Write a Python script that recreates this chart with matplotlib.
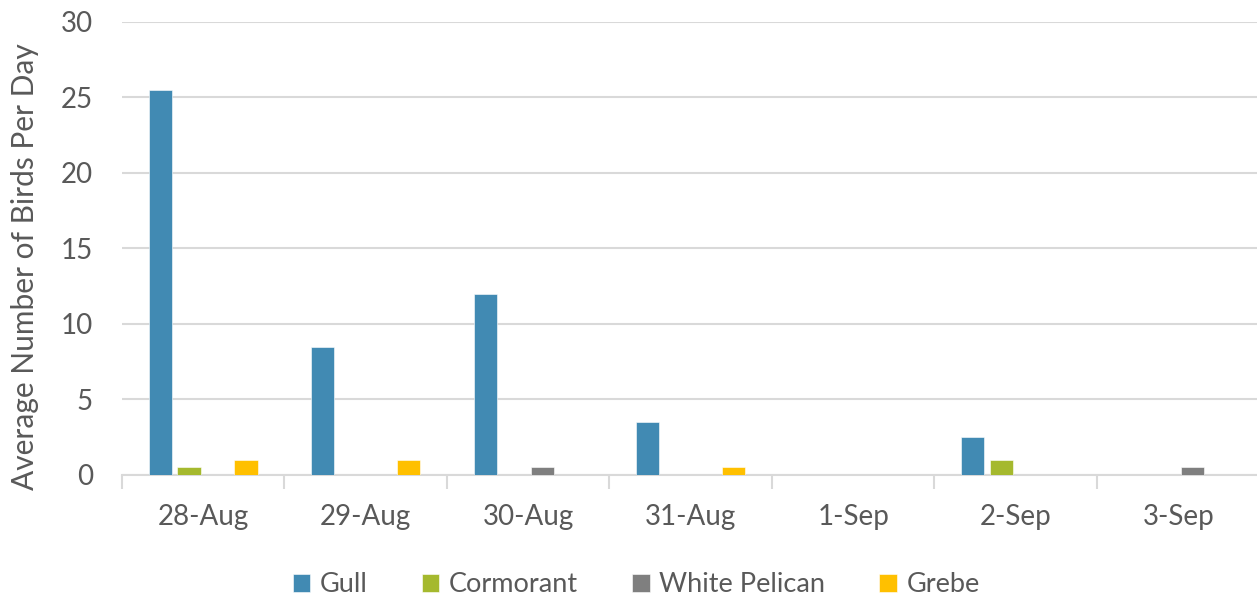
import matplotlib
matplotlib.use("Agg")
import matplotlib.pyplot as plt
import numpy as np

categories = ["28-Aug", "29-Aug", "30-Aug", "31-Aug", "1-Sep", "2-Sep", "3-Sep"]
gull = [25.5, 8.5, 12.0, 3.5, 0, 2.5, 0]
cormorant = [0.5, 0, 0, 0, 0, 1.0, 0]
white_pelican = [0, 0, 0.5, 0, 0, 0, 0.5]
grebe = [1.0, 1.0, 0, 0.5, 0, 0, 0]
series_names = ["Gull", "Cormorant", "White Pelican", "Grebe"]
colors = ["#418AB3", "#A5B92E", "#7F7F7F", "#FFC000"]

plt.rcParams['font.family'] = ['Lato', 'DejaVu Sans']
text_color = "#595959"

fig = plt.figure(figsize=(12.57, 6.04), dpi=100)
ax = fig.add_axes([0.097, 0.2136, 0.905, 0.75])

x = np.arange(len(categories))
spacing = 0.176
width = 0.143
for i, (vals, name, c) in enumerate(zip([gull, cormorant, white_pelican, grebe], series_names, colors)):
    ax.bar(x + (i - 1.5) * spacing, vals, width, color=c, label=name,
           edgecolor="white", linewidth=0.4, zorder=3)

ax.set_xlim(-0.5, len(categories) - 0.5)
ax.set_ylim(0, 30)
ax.set_yticks(range(0, 31, 5))
ax.grid(axis="y", color="#D9D9D9", linewidth=1.5, zorder=0)
ax.set_axisbelow(True)

for s in ["top", "right", "left"]:
    ax.spines[s].set_visible(False)
ax.spines["bottom"].set_color("#D9D9D9")
ax.spines["bottom"].set_linewidth(1.5)

ax.set_xticks(x)
ax.set_xticklabels(categories)
ax.set_xticks(np.arange(-0.5, len(categories), 1.0), minor=True)
ax.tick_params(axis="x", which="major", length=0, pad=21, labelsize=20, labelcolor=text_color)
ax.tick_params(axis="x", which="minor", length=10, width=1.5, color="#D9D9D9")
ax.tick_params(axis="y", length=0, pad=21, labelsize=20, labelcolor=text_color)

ax.set_ylabel("Average Number of Birds Per Day", fontsize=21.5, color=text_color)
ax.yaxis.set_label_coords(-0.073, 0.46)

leg = fig.legend(loc="center", bbox_to_anchor=(0.506, 0.032), ncol=4, frameon=False,
                 fontsize=19.5, handlelength=0.65, handleheight=0.65, columnspacing=2.0,
                 handletextpad=0.35, labelcolor=text_color)

fig.savefig("out.png", dpi=100)
